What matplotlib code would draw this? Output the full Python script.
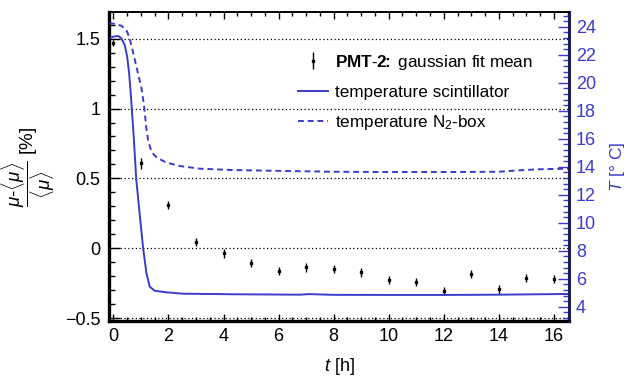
import matplotlib
matplotlib.use("Agg")
import matplotlib.pyplot as plt
from matplotlib.ticker import MultipleLocator

plt.rcParams['font.family'] = ['Liberation Sans', 'DejaVu Sans']
plt.rcParams['mathtext.fontset'] = 'custom'
plt.rcParams['mathtext.rm'] = 'Liberation Sans'
plt.rcParams['mathtext.it'] = 'Liberation Sans:italic'
plt.rcParams['mathtext.bf'] = 'Liberation Sans:bold'
plt.rcParams['axes.unicode_minus'] = True

# PMT-2 gaussian fit mean, relative deviation in percent
pmt_t = [0, 1, 2, 3, 4, 5, 6, 7, 8, 9, 10, 11, 12, 13, 14, 15, 16]
pmt_dev = [1.47, 0.607, 0.309, 0.045, -0.036, -0.105, -0.162, -0.136, -0.148,
           -0.171, -0.226, -0.241, -0.305, -0.181, -0.293, -0.21, -0.217]
pmt_err = [0.02, 0.036, 0.03, 0.031, 0.03, 0.03, 0.03, 0.03, 0.03,
           0.03, 0.03, 0.03, 0.03, 0.03, 0.03, 0.03, 0.03]

# temperature of the scintillator
scint_t = [-0.16, 0.0, 0.17, 0.29, 0.41, 0.5, 0.57, 0.63, 0.68, 0.73, 0.83, 0.95,
           1.08, 1.2, 1.32, 1.5, 1.92, 2.53, 4.34, 6.77, 7.1, 7.97, 10, 12, 14, 16.55]
scint_T = [23.17, 23.29, 23.34, 23.17, 22.7, 21.86, 20.7, 19.2, 17.8, 16.4, 13.1, 10.7,
           8.17, 6.4, 5.43, 5.14, 5.03, 4.93, 4.89, 4.86, 4.9, 4.85, 4.84, 4.84, 4.86, 4.91]

# temperature of the N2 box
box_t = [-0.16, 0.05, 0.29, 0.47, 0.57, 0.65, 0.77, 0.89, 1.02, 1.11, 1.2, 1.27,
         1.38, 1.5, 1.62, 1.92, 2.41, 3.13, 4.34, 5.8, 7.97, 10, 12, 14, 14.8, 15.5, 16.55]
box_T = [24.25, 24.2, 24.07, 23.76, 23.3, 22.7, 21.7, 20.7, 19.6, 18.4, 16.7, 15.8,
         15.1, 14.8, 14.6, 14.3, 14.05, 13.86, 13.76, 13.71, 13.64, 13.62, 13.62, 13.64,
         13.75, 13.82, 13.86]

left_ticks = [-0.5, 0, 0.5, 1, 1.5]
left_ticklabels = ['\u22120.5', '0', '0.5', '1', '1.5']

blue = '#3b3bcc'

fig = plt.figure(figsize=(6.29, 3.81), dpi=100)
ax = fig.add_axes([109 / 629, 1 - 321 / 381, 460 / 629, 309 / 381])
ax2 = ax.twinx()

ax.set_xlim(-0.16, 16.55)
ax.set_ylim(-0.519, 1.69)
ax2.set_ylim(2.98, 25.05)

# horizontal dotted grid at the major ticks of the left axis
for yv in left_ticks:
    ax.axhline(yv, color='black', lw=0.9, ls=(0, (1, 2)), zorder=0.5)

eb = ax.errorbar(pmt_t, pmt_dev, yerr=pmt_err, fmt='s', color='black', ms=1.7,
                 elinewidth=1.0, capsize=0, zorder=3)

l1, = ax2.plot(scint_t, scint_T, color=blue, lw=1.4, zorder=2)
l2, = ax2.plot(box_t, box_T, color=blue, lw=1.4, ls=(0, (3, 2)), zorder=2)

# ticks
ax.set_yticks(left_ticks)
ax.set_yticklabels(left_ticklabels)
ax.yaxis.set_minor_locator(MultipleLocator(0.1))
ax.xaxis.set_major_locator(MultipleLocator(2))
ax.xaxis.set_minor_locator(MultipleLocator(0.5))
ax.tick_params(axis='x', which='both', direction='in', top=True, bottom=True,
               labelsize=13, pad=5)
ax.tick_params(axis='x', which='major', length=5, width=1)
ax.tick_params(axis='x', which='minor', length=3, width=1)
ax.tick_params(axis='y', which='both', direction='in', left=True, right=False,
               labelsize=13, pad=6)
ax.tick_params(axis='y', which='major', length=8, width=1)
ax.tick_params(axis='y', which='minor', length=4, width=1)

ax2.yaxis.set_major_locator(MultipleLocator(2))
ax2.yaxis.set_minor_locator(MultipleLocator(0.4))
ax2.tick_params(axis='y', which='both', direction='in', colors=blue,
                labelsize=13, pad=5)
ax2.tick_params(axis='y', which='major', length=8, width=1)
ax2.tick_params(axis='y', which='minor', length=4, width=1)

for a in (ax, ax2):
    for s in a.spines.values():
        s.set_linewidth(1.2)
ax.spines['left'].set_linewidth(2.4)
ax.spines['bottom'].set_linewidth(2.4)
ax2.spines['right'].set_linewidth(2.2)
ax2.spines['right'].set_color('#1c1c5a')

ax.set_xlabel('$t$ [h]', fontsize=13)
ax.xaxis.set_label_coords(0.5, -0.114)
ax.set_ylabel(r'$\dfrac{\mu\text{-}\langle\mu\rangle}{\langle\mu\rangle}$ [%]', fontsize=13.5)
ax.yaxis.set_label_coords(-0.112, 0.5)
ax2.set_ylabel('$T$ [° C]', fontsize=12.5, color=blue)
ax2.yaxis.set_label_coords(1.084, 0.5)
ax2.yaxis.label.set_va('top')

ax.legend([eb, l1, l2],
          [r'$\mathbf{PMT\text{-}2\!\!:}$ gaussian fit mean',
           'temperature scintillator',
           'temperature N$_2$-box'],
          loc='upper left', bbox_to_anchor=(0.411, 0.868), borderaxespad=0,
          borderpad=0, frameon=False, fontsize=12.3, handlelength=1.75,
          handletextpad=0.4, labelspacing=0.76)

fig.savefig('out.png', dpi=100)
